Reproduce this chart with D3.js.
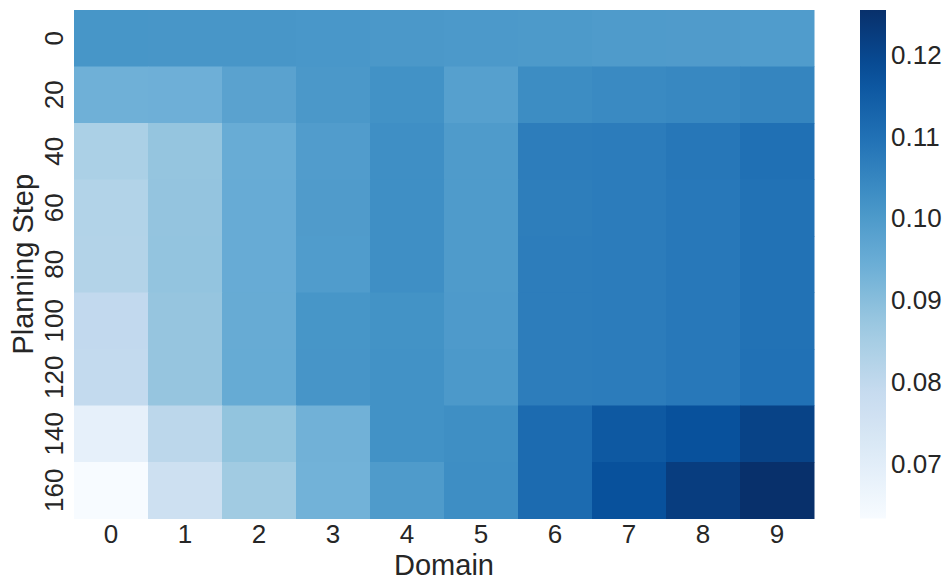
<!DOCTYPE html>
<html><head><meta charset="utf-8">
<script src="https://cdn.jsdelivr.net/npm/d3@7"></script>
<style>body{margin:0;background:#fff}svg{display:block}text{font-family:"Liberation Sans",Arial,sans-serif;fill:#262626}</style>
</head><body><svg id="c" width="947" height="581"></svg>
<script>
const domains = ["0","1","2","3","4","5","6","7","8","9"];
const steps = ["0","20","40","60","80","100","120","140","160"];
const values = [
  [0.1012,0.1011,0.1010,0.1008,0.1005,0.1003,0.1000,0.0998,0.0996,0.0995],
  [0.0938,0.0940,0.0976,0.1005,0.1022,0.0984,0.1034,0.1040,0.1045,0.1052],
  [0.0841,0.0880,0.0950,0.0993,0.1028,0.0998,0.1071,0.1074,0.1085,0.1103],
  [0.0827,0.0882,0.0951,0.0996,0.1028,0.0998,0.1070,0.1074,0.1083,0.1098],
  [0.0826,0.0883,0.0951,0.0995,0.1028,0.0998,0.1071,0.1073,0.1083,0.1098],
  [0.0796,0.0879,0.0952,0.1012,0.1020,0.0999,0.1072,0.1074,0.1082,0.1098],
  [0.0795,0.0879,0.0953,0.1013,0.1021,0.1002,0.1072,0.1074,0.1082,0.1099],
  [0.0686,0.0808,0.0884,0.0935,0.1021,0.1029,0.1115,0.1159,0.1177,0.1210],
  [0.0633,0.0765,0.0861,0.0933,0.0997,0.1030,0.1115,0.1177,0.1224,0.1255]
];
const cbTicks = [0.07,0.08,0.09,0.10,0.11,0.12];
const xLabel = "Domain", yLabel = "Planning Step";

// matplotlib Blues (linear segmented)
const bluesStops = ["#f7fbff","#deebf7","#c6dbef","#9ecae1","#6baed6","#4292c6","#2171b5","#08519c","#08306b"];
const blues = d3.scaleLinear().domain(d3.range(9).map(i=>i/8)).range(bluesStops).interpolate(d3.interpolateRgb).clamp(true);

const flat = values.flat();
const vmin = d3.min(flat), vmax = d3.max(flat);
const color = v => blues((v - vmin)/(vmax - vmin));

const FS = 26, LFS = 29;
const svg = d3.select("#c");
const L = 74, R = 814, T = 10, B = 518.5;
const x = d3.scaleBand().domain(domains).range([L,R]).padding(0);
const y = d3.scaleBand().domain(steps).range([T,B]).padding(0);

const g = svg.append("g");
values.forEach((row,i)=>{
  row.forEach((v,j)=>{
    g.append("rect").attr("x",x(domains[j])).attr("y",y(steps[i]))
      .attr("width",x.bandwidth()+0.5).attr("height",y.bandwidth()+0.5)
      .attr("fill",color(v));
  });
});

// x axis
const xa = svg.append("g").attr("transform",`translate(0,${B})`)
  .call(d3.axisBottom(x).tickSize(0).tickPadding(6));
xa.select(".domain").remove();
xa.selectAll("text").attr("font-size",FS).style("font-family","'Liberation Sans',Arial,sans-serif").attr("fill","#262626");

// y axis
const ya = svg.append("g").attr("transform",`translate(${L},0)`)
  .call(d3.axisLeft(y).tickSize(0));
ya.select(".domain").remove();
ya.selectAll(".tick text").attr("font-size",FS).style("font-family","'Liberation Sans',Arial,sans-serif").attr("fill","#262626")
  .attr("x",0).attr("dy","0.36em").attr("text-anchor","middle")
  .attr("transform","translate(-20,0) rotate(-90)");

svg.append("text").attr("x",(L+R)/2).attr("y",575).attr("text-anchor","middle").attr("font-size",LFS).text(xLabel);
svg.append("text").attr("transform",`translate(33,${(T+B)/2}) rotate(-90)`).attr("text-anchor","middle").attr("font-size",LFS).text(yLabel);

// colorbar
const cbX = 860, cbW = 26;
const cy = d3.scaleLinear().domain([vmin,vmax]).range([B,T]);
const defs = svg.append("defs");
const grad = defs.append("linearGradient").attr("id","cbg").attr("x1",0).attr("y1",1).attr("x2",0).attr("y2",0);
d3.range(0,1.0001,0.05).forEach(t=>grad.append("stop").attr("offset",t).attr("stop-color",blues(t)));
svg.append("rect").attr("x",cbX).attr("y",T).attr("width",cbW).attr("height",B-T).attr("fill","url(#cbg)");
const ca = svg.append("g").attr("transform",`translate(${cbX+cbW},0)`)
  .call(d3.axisRight(cy).tickValues(cbTicks).tickFormat(d3.format(".2f")).tickSize(0).tickPadding(5));
ca.select(".domain").remove();
ca.selectAll("text").attr("font-size",FS).style("font-family","'Liberation Sans',Arial,sans-serif").attr("fill","#262626");
</script></body></html>
